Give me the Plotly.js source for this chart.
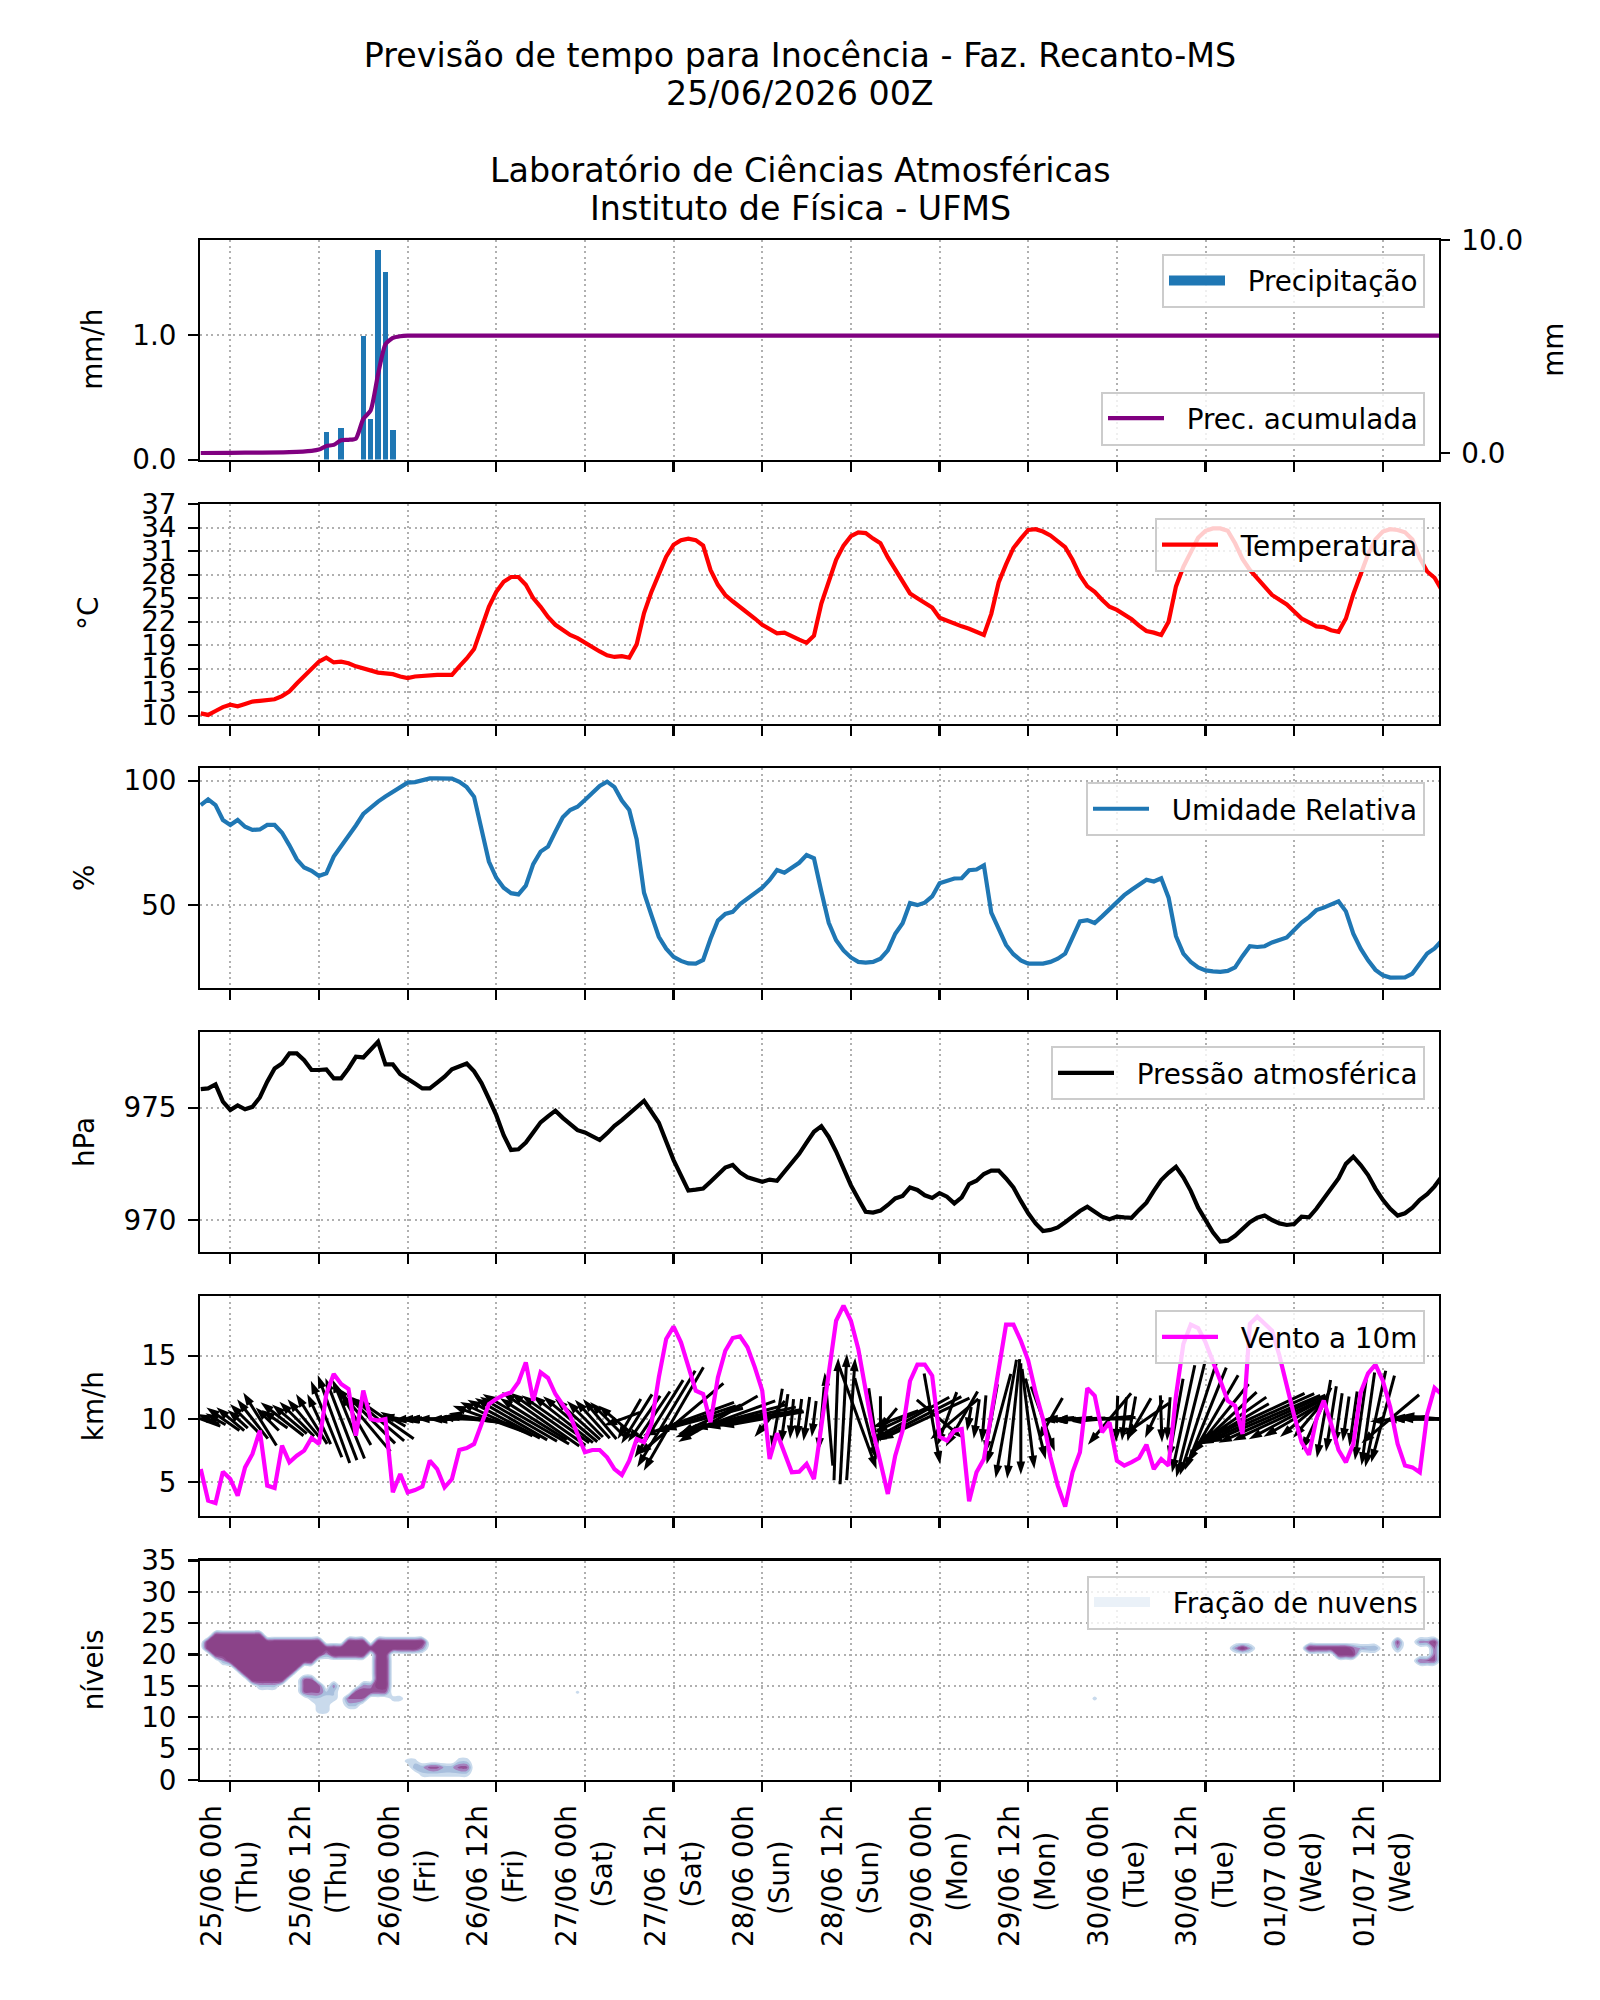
<!DOCTYPE html>
<html><head><meta charset="utf-8">
<script src="https://cdn.plot.ly/plotly-3.0.1.min.js"></script>
<style>body{margin:0;background:#fff}</style>
</head><body><div id="chart" style="width:1600px;height:2000px"></div>
<script>
// ---------------- DATA ----------------
const tickHours = [0,12,24,36,48,60,72,84,96,108,120,132,144,156];
const N = '\u00a0';
const tickLabels = ['25/06 00h<br>(Thu)'+N.repeat(4),'25/06 12h<br>(Thu)'+N.repeat(4),
  '26/06 00h<br>(Fri)'+N.repeat(5),'26/06 12h<br>(Fri)'+N.repeat(5),
  '27/06 00h<br>(Sat)'+N.repeat(4),'27/06 12h<br>(Sat)'+N.repeat(4),
  '28/06 00h<br>(Sun)'+N.repeat(4),'28/06 12h<br>(Sun)'+N.repeat(4),
  '29/06 00h<br>(Mon)'+N.repeat(3),'29/06 12h<br>(Mon)'+N.repeat(3),
  '30/06 00h<br>(Tue)'+N.repeat(4),'30/06 12h<br>(Tue)'+N.repeat(4),
  '01/07 00h<br>(Wed)'+N.repeat(3),'01/07 12h<br>(Wed)'+N.repeat(3)];

// hourly time axis (hours from 25/06 00h)
const hours = [-4,-3,-2,-1,0,1,2,3,4,5,
  6,7,8,9,10,11,12,13,14,15,
  16,17,18,19,20,21,22,23,24,25,
  26,27,28,29,30,31,32,33,34,35,
  36,37,38,39,40,41,42,43,44,45,
  46,47,48,49,50,51,52,53,54,55,
  56,57,58,59,60,61,62,63,64,65,
  66,67,68,69,70,71,72,73,74,75,
  76,77,78,79,80,81,82,83,84,85,
  86,87,88,89,90,91,92,93,94,95,
  96,97,98,99,100,101,102,103,104,105,
  106,107,108,109,110,111,112,113,114,115,
  116,117,118,119,120,121,122,123,124,125,
  126,127,128,129,130,131,132,133,134,135,
  136,137,138,139,140,141,142,143,144,145,
  146,147,148,149,150,151,152,153,154,155,
  156,157,158,159,160,161,162,163,164];
const temperature = [10.3,10.1,10.6,11.1,11.4,11.2,11.5,11.8,11.9,12.0,
  12.1,12.5,13.1,14.1,15.0,16.0,16.9,17.4,16.8,16.9,
  16.7,16.3,16.0,15.7,15.5,15.4,15.3,15.0,14.8,15.0,
  15.1,15.2,15.2,15.2,15.2,16.3,17.3,18.5,21.2,23.9,
  25.8,27.1,27.7,27.7,26.7,25.0,23.9,22.6,21.6,20.9,
  20.3,19.9,19.3,18.8,18.2,17.7,17.5,17.6,17.4,19.1,
  23.1,25.8,28.0,30.3,31.8,32.4,32.6,32.4,31.7,28.6,
  26.7,25.4,24.6,23.9,23.1,22.4,21.6,21.0,20.5,20.6,
  20.1,19.7,19.3,20.2,24.3,27.3,29.9,31.7,32.9,33.4,
  33.3,32.6,32.0,30.2,28.6,27.0,25.6,25.0,24.4,23.8,
  22.5,22.1,21.8,21.4,21.1,20.7,20.3,23.0,27.0,29.3,
  31.4,32.6,33.7,33.8,33.5,33.0,32.2,31.5,29.9,27.9,
  26.5,25.8,24.8,23.9,23.5,22.9,22.3,21.5,20.8,20.6,
  20.3,22.0,26.5,29.0,31.0,32.7,33.6,33.9,33.9,33.6,
  32.0,30.0,28.6,27.5,26.4,25.4,24.8,24.2,23.3,22.4,
  21.9,21.4,21.3,20.9,20.7,22.4,25.5,28.1,30.6,32.5,
  33.5,33.8,33.7,33.4,32.5,30.1,28.4,27.6,26.0];
const humidity = [90.2,92.5,90.2,84.2,82.2,84.2,81.5,80.2,80.4,82.2,
  82.2,79.1,74.0,68.4,65.1,63.8,61.7,62.8,69.5,73.5,
  77.5,82.0,86.6,89.3,91.6,93.6,95.6,97.4,99.2,99.4,
  100.0,100.9,100.9,100.9,100.8,99.5,97.4,93.5,81.0,67.5,
  61.0,57.0,54.8,54.3,57.8,66.5,71.5,73.5,79.5,85.3,
  88.2,89.5,92.2,94.9,97.9,99.6,97.4,92.0,88.2,76.5,
  55.0,46.0,37.3,32.5,29.2,27.6,26.6,26.5,28.0,36.5,
  43.8,46.5,47.3,50.4,52.7,55.0,57.0,60.1,64.1,63.0,
  65.0,67.0,70.1,68.8,55.5,42.9,35.9,31.8,29.0,27.2,
  26.9,27.2,28.5,31.8,38.5,42.7,50.8,50.0,51.0,53.5,
  58.8,59.9,60.7,60.8,64.0,64.3,66.0,47.0,40.2,34.0,
  30.3,27.8,26.5,26.3,26.5,27.2,28.5,30.5,37.5,43.5,
  44.0,42.8,45.5,48.5,51.5,54.0,56.2,58.0,60.2,59.5,
  60.8,53.0,37.5,30.5,27.2,25.0,23.8,23.4,23.2,23.6,
  25.0,29.5,33.5,33.2,33.5,35.0,36.0,37.0,40.0,43.0,
  45.2,48.0,49.0,50.2,51.5,47.5,38.5,32.5,27.8,24.0,
  21.8,20.9,20.9,21.0,22.5,26.5,30.6,32.6,35.9];
const pressure = [975.83,975.86,976.04,975.27,974.9,975.1,974.93,975.04,975.46,976.16,
  976.75,976.97,977.42,977.42,977.12,976.68,976.68,976.71,976.31,976.31,
  976.75,977.27,977.24,977.6,977.94,976.93,976.93,976.5,976.31,976.08,
  975.86,975.86,976.12,976.38,976.71,976.85,976.97,976.62,976.1,975.4,
  974.67,973.78,973.12,973.15,973.45,973.9,974.35,974.62,974.87,974.55,
  974.25,974.0,973.9,973.72,973.56,973.86,974.2,974.45,974.75,975.01,
  975.31,974.82,974.33,973.5,972.67,971.99,971.31,971.35,971.4,971.7,
  972.05,972.34,972.45,972.12,971.9,971.78,971.7,971.8,971.75,972.15,
  972.55,972.95,973.45,973.93,974.18,973.7,973.05,972.3,971.55,970.95,
  970.37,970.33,970.42,970.67,970.96,971.07,971.45,971.34,971.1,970.98,
  971.2,971.04,970.74,971.01,971.6,971.75,972.05,972.2,972.2,971.85,
  971.45,970.85,970.3,969.85,969.51,969.56,969.67,969.9,970.15,970.4,
  970.59,970.37,970.15,970.03,970.15,970.12,970.1,970.45,970.77,971.3,
  971.78,972.1,972.37,971.9,971.3,970.55,970.0,969.45,969.04,969.08,
  969.3,969.63,969.9,970.1,970.2,970.0,969.85,969.78,969.82,970.15,
  970.12,970.5,970.95,971.34,971.85,972.5,972.82,972.45,972.0,971.4,
  970.9,970.5,970.2,970.3,970.55,970.9,971.15,971.5,971.95];
const windSpeed = [6.05,3.55,3.37,5.84,5.26,3.95,6.18,7.24,9.08,4.74,
  4.55,7.9,6.58,7.1,7.5,8.5,8.03,11.97,13.55,12.76,
  12.37,8.68,12.24,10.0,9.87,10.0,4.21,5.66,4.21,4.39,
  4.66,6.71,6.05,4.6,5.26,7.55,7.71,8.03,9.6,11.18,
  11.58,11.9,12.1,12.9,14.47,11.45,13.68,13.24,11.97,11.1,
  10.26,8.8,7.37,7.55,7.55,6.97,6.05,5.58,6.71,8.42,
  8.16,9.61,13.29,16.32,17.29,16.05,14.08,12.24,11.97,9.74,
  13.29,15.39,16.39,16.53,15.66,14.08,12.24,6.84,8.87,7.29,
  5.79,5.84,6.45,5.26,9.34,13.55,17.76,18.95,17.76,15.53,
  12.24,9.0,6.58,4.08,7.1,9.08,13.0,14.29,14.29,13.42,
  8.6,8.29,9.08,9.21,3.5,5.79,6.84,10.26,13.55,17.45,
  17.45,16.18,14.61,12.1,10.0,7.0,4.74,3.08,5.79,7.37,
  12.42,11.84,8.95,9.74,6.71,6.32,6.6,6.92,7.97,6.05,
  6.84,6.32,11.84,15.92,17.45,17.18,16.05,14.61,13.03,11.45,
  11.05,8.82,17.5,18.08,17.5,16.97,15.0,12.5,10.26,8.16,
  7.18,10.0,11.45,9.61,7.55,6.58,8.03,12.1,13.61,14.29,
  13.03,10.92,8.03,6.32,6.18,5.79,10.39,12.45,11.92];
// direction each wind arrow points (degrees counter-clockwise from east)
const windArrowDir = [160,155,150,145,140,138,135,128,122,135,
  145,142,140,135,130,122,115,112,110,111,
  112,120,130,135,140,145,150,170,185,182,
  180,180,180,182,185,180,175,172,170,160,
  155,152,150,150,150,148,145,145,145,142,
  140,138,135,132,130,135,140,200,240,238,
  235,236,238,239,240,220,200,198,195,205,
  210,200,195,192,190,190,190,230,260,262,
  265,263,262,263,265,95,88,87,86,290,
  285,278,270,230,200,205,209,207,205,280,
  320,250,220,240,260,262,265,260,255,260,
  264,270,277,284,290,240,185,185,185,182,
  180,182,185,230,268,264,260,240,215,245,
  272,266,260,258,256,252,248,240,231,223,
  215,210,205,204,203,204,205,208,210,220,
  230,245,260,261,262,262,262,262,262,258,
  255,220,185,182,180,180,180,178,175];

// precipitation
const rainHours = [13,15,18,19,20,21,22];
const rainRate  = [0.22,0.25,0.99,0.33,1.68,1.51,0.24];
const accHours  = [-4,0,4,8,11,12,13,14,15,16,17,18,19,20,21,22,23,24,164];
const accRain   = [0,0.01,0.02,0.04,0.1,0.16,0.33,0.38,0.6,0.62,0.68,1.6,2.0,3.7,5.1,5.4,5.48,5.51,5.51];

// cloud fraction patches: [level, first hour, last hour, fraction]
const cloudLevels = [0,1,2,3,4,5,6,7,8,9,10,11,12,13,14,15,16,17,18,19,20,21,22,23,24,25,26,27,28,29,30,31,32,33,34,35];
const cloudPatches = [
  [23,-2,4,1],[22,-3,12,1],[22,16,18,1],[22,20,26,1],[21,-3,25,1],[21,26,26,0.6],
  [20,-2,12,1],[20,13,13,0.5],[20,14,18,1],[20,20,21,1],
  [19,0,11,1],[19,-1,-1,0.5],[19,20,21,1],[18,1,9,1],[18,20,21,1],
  [17,2,8,1],[17,20,21,1],[16,3,7,1],[16,20,21,1],[15,4,6,0.4],[15,20,21,1],[14,20,21,0.7],
  [16,10,11,0.7],[15,10,12,0.75],[14,10,12,0.7],[13,11,14,0.3],[12,12,13,0.3],
  [15,14,14,0.6],[14,13,14,0.35],[11,12,13,0.25],
  [15,18,19,0.6],[14,17,19,0.8],[13,16,18,0.7],[12,16,17,0.4],[13,22,23,0.25],
  [2,25,32,0.45],[2,27,28,0.75],[2,31,32,0.75],[1,26,32,0.3],[3,24,25,0.25],[3,31,32,0.3],
  [14,47,47,0.2],[13,117,117,0.22],[14,98,98,0.12],
  [21,137,137,1],[21,136,136,0.55],[21,138,138,0.55],[21,146,151,1],[20,150,152,0.9],
  [21,152,152,0.7],[21,153,155,0.5],[22,158,158,0.8],[21,158,158,0.5],
  [22,161,163,0.6],[22,163,163,0.9],[21,163,163,0.7],[20,163,163,0.7],[19,161,163,0.7]
];

// ---------------- LAYOUT GEOMETRY ----------------
const FONT = 'DejaVu Sans';
const FS = 27.8;
const W = 1600, H = 2000, ML = 200, MR = 161, MT = 240, MB = 220;
const PW = W - ML - MR, PH = H - MT - MB;
const PANEL_H = 219.6, PANEL_STEP = 264.1;
const py = p => (H - MB - p) / PH;
const px = p => (p - ML) / PW;
const domains = [0,1,2,3,4,5].map(k => {
  const top = MT + k * PANEL_STEP;
  return [Math.max(0, py(top + PANEL_H)), Math.min(1, py(top))];
});
const XR = [-4.1, 163.6];
const yRanges = {
  y1: [0, 1.764], y7: [-0.31, 10.0], y2: [8.98, 37], y3: [16.8, 105.0],
  y4: [968.58, 978.36], y5: [2.34, 19.68], y6: [0, 35]
};

// ---------------- WIND ARROWS (centred on 10 km/h) ----------------
const pxPerH = PW / (XR[1] - XR[0]);
const pxPerK = PANEL_H / (yRanges.y5[1] - yRanges.y5[0]);
const KLEN = 6.9, HEADLEN = 11;
const sx = [], sy = [], hx = [], hy = [], hang = [];
hours.forEach((h, i) => {
  const s = windSpeed[i];
  const a = windArrowDir[i] * Math.PI / 180;
  const c = Math.cos(a), d = Math.sin(a);
  const half = s * KLEN / 2;
  sx.push(h - half * c / pxPerH, h + (half - HEADLEN) * c / pxPerH, null);
  sy.push(10 - half * d / pxPerK, 10 + (half - HEADLEN) * d / pxPerK, null);
  hx.push(h + half * c / pxPerH);
  hy.push(10 + half * d / pxPerK);
  hang.push(90 - windArrowDir[i]);
});

// ---------------- CLOUD TABLE ----------------
const cloudZ = cloudLevels.map(() => hours.map(() => 0));
cloudPatches.forEach(([lv, h0, h1, v]) => {
  for (let h = h0; h <= h1; h++) {
    const j = hours.indexOf(h);
    if (j >= 0) cloudZ[lv][j] = Math.max(cloudZ[lv][j], v);
  }
});

// ---------------- TRACES ----------------
const sp = N + N;
const traces = [
  {type:'bar', x: rainHours, y: rainRate, width: 0.75, marker:{color:'#1f77b4', line:{width:0}},
   xaxis:'x', yaxis:'y', showlegend:false, hoverinfo:'skip'},
  {type:'scatter', mode:'lines', x:[null], y:[null], name: sp + 'Precipitação',
   line:{color:'#1f77b4', width:14}, xaxis:'x', yaxis:'y', legend:'legend', showlegend:true},
  {type:'scatter', mode:'lines', x: accHours, y: accRain, name: sp + 'Prec. acumulada',
   line:{color:'#800080', width:4.2, shape:'spline', smoothing:0.6}, xaxis:'x', yaxis:'y7', legend:'legend2'},
  {type:'scatter', mode:'lines', x: hours, y: temperature, name: sp + 'Temperatura',
   line:{color:'#ff0000', width:4.2}, xaxis:'x2', yaxis:'y2', legend:'legend3'},
  {type:'scatter', mode:'lines', x: hours, y: humidity, name: sp + 'Umidade Relativa',
   line:{color:'#1f77b4', width:4.2}, xaxis:'x3', yaxis:'y3', legend:'legend4'},
  {type:'scatter', mode:'lines', x: hours, y: pressure, name: sp + 'Pressão atmosférica',
   line:{color:'#000000', width:4.2}, xaxis:'x4', yaxis:'y4', legend:'legend5'},
  {type:'scatter', mode:'lines', x: sx, y: sy, line:{color:'#000', width:3},
   xaxis:'x5', yaxis:'y5', showlegend:false, hoverinfo:'skip', connectgaps:false},
  {type:'scatter', mode:'markers', x: hx, y: hy,
   marker:{symbol:'arrow', size:14, angle: hang, color:'#000', line:{width:0}},
   xaxis:'x5', yaxis:'y5', showlegend:false, hoverinfo:'skip'},
  {type:'scatter', mode:'lines', x: hours, y: windSpeed, name: sp + 'Vento a 10m',
   line:{color:'#ff00ff', width:4.2}, xaxis:'x5', yaxis:'y5', legend:'legend6'},
  {type:'contour', x: hours, y: cloudLevels, z: cloudZ, xaxis:'x6', yaxis:'y6',
   zmin:0, zmax:1, autocontour:false,
   contours:{start:0.15, end:0.85, size:0.175, coloring:'fill', showlines:false},
   colorscale:[[0,'rgba(255,255,255,0)'],[0.13,'rgba(255,255,255,0)'],[0.2,'#c9daec'],
     [0.4,'#a8bfdd'],[0.6,'#a583bf'],[0.75,'#98599f'],[0.9,'#8b4389'],[1,'#8b4389']],
   showscale:false, line:{width:0}, hoverinfo:'skip', showlegend:false},
  {type:'scatter', mode:'lines', x:[null], y:[null], name: sp + 'Fração de nuvens',
   line:{color:'#eaf1f8', width:14}, xaxis:'x6', yaxis:'y6', legend:'legend7', showlegend:true}
];

// ---------------- AXES ----------------
const base = {
  showline:true, linecolor:'#000', linewidth:2.2, mirror:true,
  ticks:'outside', ticklen:9.7, tickwidth:2.2, tickcolor:'#000',
  showgrid:true, gridcolor:'#b0b0b0', gridwidth:2, griddash:'2px,3.5px',
  zeroline:false, tickfont:{family:FONT, size:FS, color:'#000'}, ticklabelstandoff:6
};
const layout = {
  width:W, height:H, margin:{l:ML, r:MR, t:MT, b:MB},
  paper_bgcolor:'#fff', plot_bgcolor:'#fff',
  font:{family:FONT, size:FS, color:'#000'},
  showlegend:true, bargap:0,
  title:{text:'Previsão de tempo para Inocência - Faz. Recanto-MS', font:{family:FONT, size:33.3, color:'#000'},
    x:0.5, xref:'container', xanchor:'center', y:1 - 55/H, yref:'container', yanchor:'middle'},
  annotations:[]
};
for (let i = 1; i <= 6; i++) {
  const key = i === 1 ? 'xaxis' : 'xaxis' + i;
  layout[key] = Object.assign({}, base, {
    range: XR, tickmode:'array', tickvals: tickHours, ticktext: tickLabels,
    anchor: i === 1 ? 'y' : 'y' + i, showticklabels: i === 6, tickangle: -90, ticklabelstandoff: 2
  });
  if (i > 1) layout[key].matches = 'x';
}
const yTicks = {
  y1:{vals:[0,1], text:['0.0','1.0']},
  y2:{vals:[10,13,16,19,22,25,28,31,34,37]},
  y3:{vals:[50,100]},
  y4:{vals:[970,975]},
  y5:{vals:[5,10,15]},
  y6:{vals:[0,5,10,15,20,25,30,35]}
};
for (let i = 1; i <= 6; i++) {
  const key = i === 1 ? 'yaxis' : 'yaxis' + i;
  const t = yTicks['y' + i];
  layout[key] = Object.assign({}, base, {
    domain: domains[i - 1], range: yRanges['y' + i], anchor: i === 1 ? 'x' : 'x' + i,
    tickmode:'array', tickvals: t.vals
  });
  if (t.text) layout[key].ticktext = t.text;
}
layout.yaxis7 = Object.assign({}, base, {
  overlaying:'y', side:'right', anchor:'x', range: yRanges.y7, showgrid:false, showline:false,
  tickmode:'array', tickvals:[0,10], ticktext:['0.0','10.0']
});

// ---------------- LEGENDS ----------------
const legBase = {xanchor:'right', x: px(1425), bgcolor:'rgba(255,255,255,0.8)', bordercolor:'#cccccc',
  borderwidth:2, font:{family:FONT, size:FS, color:'#000'}, itemwidth:56};
layout.legend  = Object.assign({}, legBase, {y: py(MT + 14), yanchor:'top'});
layout.legend2 = Object.assign({}, legBase, {y: py(MT + PANEL_H - 14), yanchor:'bottom'});
layout.legend3 = Object.assign({}, legBase, {y: py(MT + PANEL_STEP + 14), yanchor:'top'});
layout.legend4 = Object.assign({}, legBase, {y: py(MT + 2*PANEL_STEP + 14), yanchor:'top'});
layout.legend5 = Object.assign({}, legBase, {y: py(MT + 3*PANEL_STEP + 14), yanchor:'top'});
layout.legend6 = Object.assign({}, legBase, {y: py(MT + 4*PANEL_STEP + 14), yanchor:'top'});
layout.legend7 = Object.assign({}, legBase, {y: py(MT + 5*PANEL_STEP + 15), yanchor:'top'});

// ---------------- TEXT ----------------
const titleLines = [
  ['25/06/2026 00Z', 93],
  ['Laboratório de Ciências Atmosféricas', 170],
  ['Instituto de Física - UFMS', 208]
];
titleLines.forEach(([t, y]) => layout.annotations.push({
  text:t, xref:'paper', yref:'paper', x: px(800), y: py(y), xanchor:'center', yanchor:'middle',
  showarrow:false, font:{family:FONT, size:33.3, color:'#000'}
}));
const yTitles = [
  ['mm/h', 93, 0], ['°C', 89, 1], ['%', 84, 2], ['hPa', 84, 3], ['km/h', 93, 4], ['níveis', 93, 5]
];
yTitles.forEach(([t, x, k]) => layout.annotations.push({
  text:t, xref:'paper', yref:'paper', x: px(x), y: py(MT + k*PANEL_STEP + PANEL_H/2),
  xanchor:'center', yanchor:'middle', textangle:-90, showarrow:false,
  font:{family:FONT, size:FS, color:'#000'}
}));
layout.annotations.push({
  text:'mm', xref:'paper', yref:'paper', x: px(1554), y: py(MT + PANEL_H/2),
  xanchor:'center', yanchor:'middle', textangle:-90, showarrow:false,
  font:{family:FONT, size:FS, color:'#000'}
});

Plotly.newPlot('chart', traces, layout, {staticPlot:true, displayModeBar:false});
</script></body></html>
